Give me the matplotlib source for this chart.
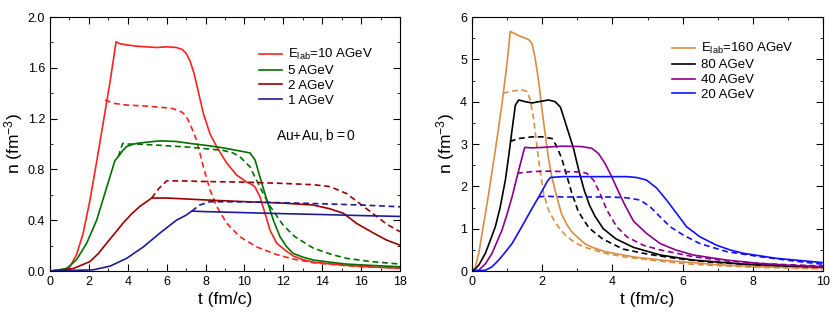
import matplotlib
matplotlib.use("Agg")
import matplotlib.pyplot as plt
from matplotlib.ticker import MultipleLocator

plt.rcParams['font.family'] = ['Liberation Sans', 'DejaVu Sans']
plt.rcParams['mathtext.default'] = 'regular'

# ---- left panel: Au+Au, b=0 (solid / dashed pairs) ----
t10 = [0, 0.69, 1.03, 1.37, 1.71, 2.06, 2.4, 2.74, 3.09, 3.4, 3.6, 3.94, 4.5, 4.97, 5.5, 6.0, 6.5, 6.8, 7.0, 7.2, 7.4,
       7.54, 7.89, 8.23, 8.57, 9.09, 9.6, 10.12, 10.4, 10.55, 10.8, 11.06, 11.32, 11.66, 12.09, 12.5, 13.0, 13.54, 14.5,
       15.26, 16.5, 18]
n10 = [0, 0.01, 0.035, 0.13, 0.3, 0.56, 0.86, 1.17, 1.49, 1.805, 1.79, 1.78, 1.77, 1.765, 1.76, 1.765, 1.76, 1.745, 1.715,
       1.655, 1.56, 1.47, 1.24, 1.08, 0.98, 0.85, 0.756, 0.7, 0.68, 0.66, 0.585, 0.454, 0.32, 0.22, 0.165, 0.12, 0.09,
       0.07, 0.055, 0.045, 0.032, 0.022]
t10d = [2.83, 3.3, 3.94, 4.8, 5.66, 6.3, 6.8, 7.0, 7.2, 7.54, 7.89, 8.23, 8.57, 9.09, 9.77, 10.63, 11.66, 12.5, 13.54,
        15.26, 16.5, 18]
n10d = [1.346, 1.32, 1.307, 1.3, 1.29, 1.28, 1.25, 1.22, 1.16, 1.03, 0.82, 0.64, 0.51, 0.376, 0.27, 0.19, 0.13, 0.095,
        0.066, 0.042, 0.033, 0.026]

t5 = [0, 0.86, 1.37, 1.89, 2.4, 2.92, 3.34, 3.51, 3.75, 3.94, 4.2, 4.46, 5.0, 5.66, 6.5, 7.2, 8.0, 8.9, 9.6, 10.29, 10.55,
      10.8, 11.15, 11.49, 11.83, 12.18, 12.5, 13.0, 13.54, 14.5, 15.26, 16.5, 18]
n5 = [0, 0.02, 0.09, 0.22, 0.4, 0.66, 0.87, 0.9, 0.95, 0.98, 0.995, 1.005, 1.015, 1.025, 1.02, 1.005, 0.99, 0.97, 0.95, 0.93,
      0.874, 0.74, 0.56, 0.4, 0.27, 0.19, 0.14, 0.11, 0.087, 0.068, 0.055, 0.045, 0.034]
t5d = [3.51, 3.74, 4.0, 4.46, 5.66, 7.2, 8.9, 9.4, 9.77, 10.29, 10.8, 11.32, 12.0, 12.6, 13.55, 14.5, 15.26, 16.5, 18]
n5d = [0.9, 1.005, 1.0, 1.0, 0.99, 0.975, 0.95, 0.93, 0.9, 0.82, 0.66, 0.51, 0.36, 0.27, 0.18, 0.13, 0.1, 0.075, 0.055]

t2 = [0, 1.2, 2.06, 2.5, 2.92, 3.4, 3.77, 4.2, 4.63, 5.0, 5.23, 6.0, 6.69, 8.0, 10.1, 12, 13.54, 14.4, 15.09, 15.77,
      16.63, 17.31, 18]
n2 = [0, 0.02, 0.075, 0.14, 0.22, 0.31, 0.38, 0.45, 0.51, 0.55, 0.575, 0.575, 0.57, 0.56, 0.546, 0.535, 0.52, 0.49, 0.455,
      0.375, 0.3, 0.244, 0.204]
t2d = [5.23, 5.6, 6.0, 6.69, 8, 10.1, 12, 13.54, 14.4, 15.26, 15.94, 16.63, 17.31, 18]
n2d = [0.575, 0.65, 0.71, 0.71, 0.705, 0.7, 0.69, 0.68, 0.665, 0.61, 0.53, 0.45, 0.37, 0.31]

t1 = [0, 2.23, 3.09, 3.94, 4.8, 5.66, 6.5, 7.0, 7.29, 8, 10, 12, 14, 16, 18]
n1 = [0, 0.01, 0.039, 0.1, 0.19, 0.3, 0.4, 0.44, 0.472, 0.468, 0.46, 0.452, 0.445, 0.437, 0.43]
t1d = [7.29, 7.7, 8.23, 10, 12, 14, 16, 18]
n1d = [0.472, 0.52, 0.546, 0.545, 0.538, 0.53, 0.52, 0.506]

# ---- right panel ----
t160 = [0, 0.095, 0.2, 0.285, 0.38, 0.475, 0.57, 0.665, 0.76, 0.855, 0.93, 1.0, 1.09, 1.33, 1.61, 1.71, 1.8, 1.9, 1.99,
        2.09, 2.18, 2.28, 2.4, 2.55, 2.7, 2.84, 2.98, 3.22, 3.46, 3.79, 4.03, 4.64, 5.5, 6.3, 7, 8, 9, 10]
n160 = [0, 0.1, 0.45, 0.89, 1.35, 1.83, 2.35, 2.86, 3.4, 3.96, 4.45, 4.93, 5.66, 5.56, 5.47, 5.37, 5.02, 4.47, 3.83, 3.2,
        2.65, 2.2, 1.8, 1.35, 1.1, 0.93, 0.82, 0.64, 0.55, 0.46, 0.42, 0.33, 0.25, 0.2, 0.15, 0.11, 0.085, 0.07]
t160d = [0.88, 1.14, 1.42, 1.57, 1.66, 1.76, 1.85, 1.95, 2.04, 2.18, 2.37, 2.52, 2.65, 2.8, 3.03, 3.3, 3.79, 4.3, 4.88,
         5.5, 6.3, 7, 8, 9, 10]
n160d = [4.2, 4.25, 4.28, 4.24, 4.04, 3.57, 2.94, 2.31, 1.83, 1.44, 1.15, 0.98, 0.86, 0.75, 0.63, 0.54, 0.42, 0.34, 0.28,
         0.22, 0.16, 0.13, 0.09, 0.07, 0.05]

t80 = [0, 0.095, 0.2, 0.38, 0.5, 0.665, 0.8, 0.95, 1.05, 1.14, 1.235, 1.33, 1.52, 1.71, 1.9, 2.18, 2.37, 2.52, 2.7, 2.89,
       3.05, 3.2, 3.35, 3.5, 3.74, 4.1, 4.6, 5.36, 6.3, 7.73, 9, 10]
n80 = [0, 0.05, 0.15, 0.42, 0.68, 1.05, 1.5, 2.15, 2.75, 3.33, 3.92, 4.04, 4.0, 3.97, 4.0, 4.04, 4.0, 3.87, 3.4, 2.9,
       2.35, 1.9, 1.55, 1.3, 1.0, 0.76, 0.56, 0.38, 0.26, 0.165, 0.12, 0.1]
t80d = [1.08, 1.33, 1.71, 2.0, 2.28, 2.41, 2.56, 2.7, 2.84, 3.03, 3.33, 3.72, 4.3, 5.0, 5.8, 6.8, 8, 10]
n80d = [3.06, 3.13, 3.17, 3.17, 3.13, 2.95, 2.65, 2.25, 1.85, 1.4, 1.02, 0.76, 0.52, 0.4, 0.3, 0.21, 0.15, 0.09]

t40 = [0, 0.19, 0.38, 0.57, 0.7, 0.855, 1.0, 1.14, 1.26, 1.38, 1.5, 1.71, 2.0, 2.56, 3.12, 3.41, 3.6, 3.79, 3.98, 4.17,
       4.36, 4.6, 4.97, 5.36, 5.8, 6.3, 7.25, 8.2, 9.0, 10]
n40 = [0, 0.02, 0.17, 0.42, 0.67, 0.97, 1.35, 1.75, 2.15, 2.54, 2.92, 2.91, 2.92, 2.95, 2.94, 2.9, 2.78, 2.54, 2.23, 1.88,
       1.55, 1.18, 0.89, 0.65, 0.5, 0.38, 0.26, 0.18, 0.14, 0.1]
t40d = [1.28, 1.71, 2.18, 2.56, 3.08, 3.27, 3.46, 3.65, 3.84, 4.12, 4.41, 4.88, 5.36, 6.3, 7.25, 8.2, 9, 10]
n40d = [2.31, 2.35, 2.36, 2.35, 2.34, 2.31, 2.15, 1.83, 1.44, 1.05, 0.81, 0.61, 0.5, 0.34, 0.24, 0.18, 0.15, 0.12]

t20 = [0, 0.38, 0.57, 0.76, 0.95, 1.14, 1.33, 1.52, 1.71, 1.9, 2.0, 2.14, 2.23, 2.56, 3.5, 4.41, 4.69, 4.97, 5.26, 5.54,
       5.83, 6.11, 6.49, 6.97, 7.35, 7.73, 8.68, 10]
n20 = [0, 0.02, 0.1, 0.26, 0.45, 0.65, 0.92, 1.2, 1.48, 1.75, 1.9, 2.11, 2.21, 2.23, 2.23, 2.23, 2.21, 2.15, 1.96, 1.68,
       1.36, 1.05, 0.81, 0.61, 0.5, 0.42, 0.3, 0.2]
t20d = [1.9, 2.09, 2.56, 3.93, 4.41, 4.78, 5.07, 5.36, 5.64, 6.02, 6.49, 7.25, 8.2, 9.15, 10]
n20d = [1.75, 1.77, 1.75, 1.75, 1.73, 1.68, 1.52, 1.28, 1.05, 0.85, 0.65, 0.46, 0.34, 0.24, 0.16]

left_series = [
    (t10, n10, t10d, n10d, '#ff2020', r'E$_{lab}$=10 AGeV'),
    (t5, n5, t5d, n5d, '#007000', '5 AGeV'),
    (t2, n2, t2d, n2d, '#990000', '2 AGeV'),
    (t1, n1, t1d, n1d, '#1c1c96', '1 AGeV'),
]
right_series = [
    (t160, n160, t160d, n160d, '#d98c45', r'E$_{lab}$=160 AGeV'),
    (t80, n80, t80d, n80d, 'black', '80 AGeV'),
    (t40, n40, t40d, n40d, '#8b008b', '40 AGeV'),
    (t20, n20, t20d, n20d, '#1010ff', '20 AGeV'),
]

fig = plt.figure(figsize=(8.3, 3.27), dpi=100)
ax1 = fig.add_axes([0.0602, 0.171, 0.4217, 0.777])
ax2 = fig.add_axes([0.5687, 0.171, 0.4229, 0.777])

for ax, series, lx, ly in [(ax1, left_series, 0.577, 0.907), (ax2, right_series, 0.55, 0.93)]:
    for t, n, td, nd, c, lab in series:
        ax.plot(t, n, color=c, lw=1.2, label=lab, solid_joinstyle='round')
        ax.plot(td, nd, color=c, lw=1.2, ls=(0, (3.5, 2.2)))
    ax.tick_params(which='both', direction='in', top=True, right=True, labelsize=9)
    ax.tick_params(which='major', length=5)
    ax.tick_params(which='minor', length=2.5)
    ax.set_xlabel('t (fm/c)', fontsize=12.5, labelpad=3)
    ax.set_ylabel(r'n (fm$^{-3}$)', fontsize=12.5, labelpad=2)
    ax.legend(loc='upper left', bbox_to_anchor=(lx, ly), frameon=False, fontsize=9.5,
              handlelength=1.75, handletextpad=0.45, labelspacing=0.2, borderpad=0)

ax1.set_xlim(0, 18)
ax1.set_ylim(0, 2.0)
ax1.xaxis.set_major_locator(MultipleLocator(2))
ax1.xaxis.set_minor_locator(MultipleLocator(1))
ax1.yaxis.set_major_locator(MultipleLocator(0.4))
ax1.yaxis.set_minor_locator(MultipleLocator(0.2))
ax1.yaxis.set_major_formatter(plt.FormatStrFormatter('%.1f'))
ax1.text(0.645, 0.515, r'Au$+$Au, b$=$0', transform=ax1.transAxes, fontsize=10)

ax2.set_xlim(0, 10)
ax2.set_ylim(0, 6)
ax2.xaxis.set_major_locator(MultipleLocator(2))
ax2.xaxis.set_minor_locator(MultipleLocator(1))
ax2.yaxis.set_major_locator(MultipleLocator(1))
ax2.yaxis.set_minor_locator(MultipleLocator(0.5))

fig.savefig('out.png', dpi=100)
